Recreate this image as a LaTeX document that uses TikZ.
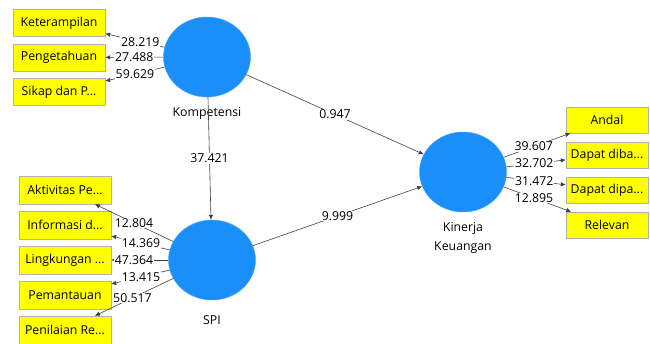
\documentclass[tikz,border=0pt]{standalone}
\usepackage{fontspec}
\setmainfont{Open Sans}
\usepackage{tikz}
\usetikzlibrary{arrows.meta, positioning, calc, shapes.geometric}
\definecolor{lvblau}{HTML}{1A8FFA}
\definecolor{indgelb}{HTML}{FFFF00}
\tikzset{
  konstrukt/.style={ellipse, fill=lvblau, draw=lvblau!80, minimum width=87pt, minimum height=80pt, inner sep=0pt},
  indikator/.style={rectangle, fill=indgelb, draw=black!30, line width=0.4pt, minimum height=27pt, inner sep=1pt, font=\fontsize{12.3}{14}\selectfont},
  wert/.style={fill=white, inner sep=0.8pt, font=\fontsize{12.3}{14}\selectfont},
  kante/.style={->, draw=black!75, line width=0.6pt},
}

\begin{document}
\begin{tikzpicture}[x=1pt, y=-1pt, >={Latex[length=5pt,width=4.5pt]}]

   % Rahmen wie im Original
   \useasboundingbox (0,0) rectangle (650,343);

   % latente Variablen
   \node[konstrukt] (komp) at (207,57) {};
   \node[konstrukt] (spi) at (212,260) {};
   \node[konstrukt] (kin) at (463,172) {};

   % Namen unter den Kreisen
   \node[font=\fontsize{12.3}{14}\selectfont] (kompname) at (207,113) {Kompetensi};
   \node[font=\fontsize{12.3}{14}\selectfont] (spiname) at (212,320) {SPI};
   \node[font=\fontsize{12.3}{19}\selectfont, align=center] (kinname) at (463,238) {Kinerja\\Keuangan};

   % Indikatoren Kompetensi
   \node[indikator, minimum width=92pt] (ket) at (59,23) {Keterampilan};
   \node[indikator, minimum width=92pt] (peng) at (59,57.5) {Pengetahuan};
   \node[indikator, minimum width=92pt] (sik) at (59,92) {Sikap dan P...};

   % Indikatoren SPI
   \node[indikator, minimum width=92pt, minimum height=28pt] (akt) at (65,190) {Aktivitas Pe...};
   \node[indikator, minimum width=92pt, minimum height=28pt] (inf) at (65,225) {Informasi d...};
   \node[indikator, minimum width=92pt, minimum height=28pt] (ling) at (65,260) {Lingkungan ...};
   \node[indikator, minimum width=92pt, minimum height=28pt] (pem) at (65,295) {Pemantauan};
   \node[indikator, minimum width=92pt, minimum height=28pt] (pen) at (65,330) {Penilaian Re...};

   % Indikatoren Kinerja Keuangan
   \node[indikator, minimum width=82pt, minimum height=26pt] (and) at (607,120) {Andal};
   \node[indikator, minimum width=82pt, minimum height=26pt] (diba) at (607,155) {Dapat diba...};
   \node[indikator, minimum width=82pt, minimum height=26pt] (dipa) at (607,190) {Dapat dipa...};
   \node[indikator, minimum width=82pt, minimum height=26pt] (rel) at (607,225) {Relevan};

   % Ladungen Kompetensi
   \draw[kante] (komp) -- (ket) node[wert, pos=0.41] {28.219};
   \draw[kante] (komp) -- (peng) node[wert, pos=0.5] {27.488};
   \draw[kante] (komp) -- (sik) node[wert, pos=0.5] {59.629};

   % Ladungen SPI
   \draw[kante] (spi) -- (akt) node[wert, pos=0.5] {12.804};
   \draw[kante] (spi) -- (inf) node[wert, pos=0.49] {14.369};
   \draw[kante] (spi) -- (ling) node[wert, pos=0.6] {47.364};
   \draw[kante] (spi) -- (pem) node[wert, pos=0.49] {13.415};
   \draw[kante] (spi) -- (pen) node[wert, pos=0.52] {50.517};

   % Ladungen Kinerja Keuangan
   \draw[kante] (kin) -- (and) node[wert, pos=0.45] {39.607};
   \draw[kante] (kin) -- (diba) node[wert, pos=0.47] {32.702};
   \draw[kante] (kin) -- (dipa) node[wert, pos=0.47] {31.472};
   \draw[kante] (kin) -- (rel) node[wert, pos=0.45] {12.895};

   % Pfade zwischen den Konstrukten
   \draw[kante] (komp) -- (kin) node[wert, pos=0.5] {0.947};
   \draw[kante] (komp) -- (spi) node[wert, pos=0.5] {37.421};
   \draw[kante] (spi) -- (kin) node[wert, pos=0.5] {9.999};

\end{tikzpicture}
\end{document}
